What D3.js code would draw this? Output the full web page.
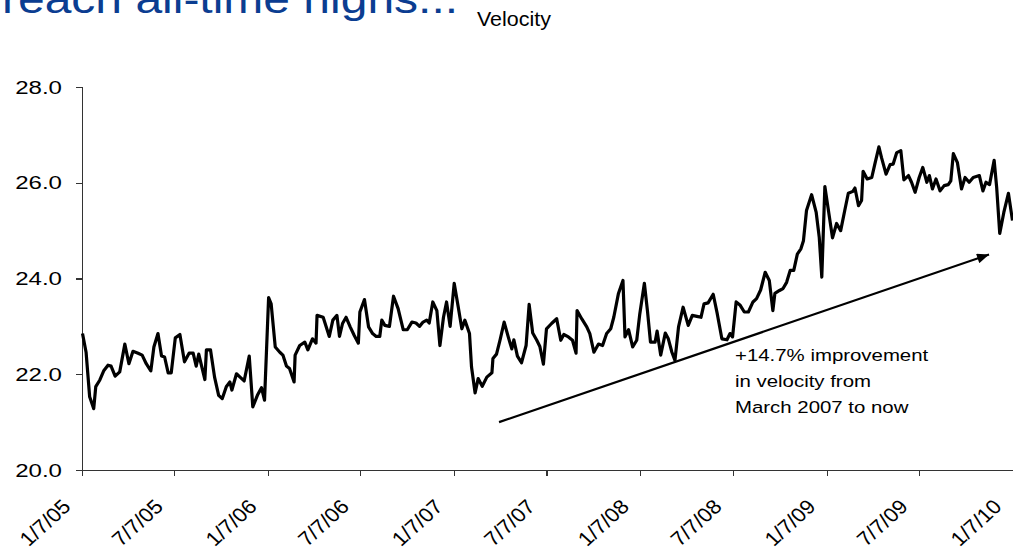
<!DOCTYPE html>
<html>
<head>
<meta charset="utf-8">
<script src="https://cdn.jsdelivr.net/npm/d3@7/dist/d3.min.js"></script>
<style>
  html, body { margin: 0; padding: 0; background: #fff; }
  svg { display: block; }
  text { font-family: Arial, "Liberation Sans", sans-serif; }
</style>
</head>
<body>
<svg id="chart" width="1013" height="553"></svg>
<script>
// ---------- DATA ----------
const titleText = "reach all-time highs...";
const seriesName = "Velocity";
const startDate = "2005-01-07";
// days since 7 Jan 2005
const dayOffset = [1,8,15,23,27,35,43,51,57,65,74,84,92,100,110,118,126,135,141,149,156,162,169,175,183,192,201,210,218,224,229,241,244,252,260,268,275,283,290,294,303,310,318,328,335,344,352,358,366,371,379,388,394,401,407,416,418,427,437,443,452,459,461,473,485,492,500,505,511,518,526,534,542,545,554,562,570,577,584,588,594,603,611,620,630,638,647,655,662,669,676,681,688,696,702,709,715,722,730,738,745,751,760,764,771,777,785,794,804,806,813,820,828,836,843,847,854,862,871,877,884,892,898,905,911,921,931,939,945,954,962,969,971,980,990,996,1004,1013,1021,1029,1037,1043,1052,1061,1065,1072,1080,1088,1094,1103,1109,1115,1124,1128,1135,1144,1150,1157,1163,1170,1179,1189,1197,1206,1214,1220,1228,1238,1246,1255,1265,1271,1276,1283,1291,1299,1307,1316,1323,1331,1340,1348,1355,1359,1368,1375,1382,1389,1396,1403,1410,1415,1421,1431,1440,1446,1451,1457,1465,1472,1480,1488,1496,1503,1512,1516,1523,1529,1532,1540,1549,1555,1563,1568,1577,1585,1591,1598,1606,1612,1621,1627,1634,1642,1649,1657,1662,1668,1675,1683,1691,1699,1704,1709,1717,1725,1732,1740,1748,1760,1767,1773,1780,1789,1794,1800,1808,1817,1825];
const velocity = [22.85,22.46,21.53,21.28,21.74,21.88,22.08,22.19,22.17,21.96,22.05,22.63,22.22,22.48,22.44,22.40,22.22,22.07,22.57,22.85,22.38,22.36,22.03,22.03,22.76,22.83,22.26,22.44,22.44,22.17,22.42,21.89,22.51,22.51,21.94,21.56,21.49,21.74,21.84,21.67,22.01,21.94,21.86,22.38,21.32,21.56,21.72,21.46,23.60,23.47,22.57,22.46,22.40,22.17,22.12,21.84,22.40,22.60,22.67,22.51,22.74,22.65,23.23,23.19,22.79,23.13,23.23,22.79,23.06,23.19,22.99,22.81,22.65,23.30,23.56,22.99,22.85,22.79,22.79,23.13,23.02,23.00,23.63,23.37,22.93,22.93,23.09,23.07,23.00,23.09,23.13,23.07,23.51,23.33,22.60,23.19,23.51,23.00,23.90,23.40,22.95,23.13,22.85,22.15,21.61,21.91,21.75,21.94,22.03,22.33,22.42,22.72,23.09,22.78,22.53,22.72,22.38,22.24,22.60,23.46,22.86,22.71,22.58,22.21,22.95,23.06,23.16,22.71,22.83,22.78,22.71,22.44,23.33,23.16,22.99,22.85,22.46,22.63,22.60,22.85,22.95,23.19,23.68,23.96,22.78,22.93,22.57,22.71,23.26,23.90,23.33,22.67,22.67,22.90,22.40,22.86,22.74,22.46,22.29,22.99,23.40,23.02,23.23,23.21,23.19,23.47,23.49,23.67,23.26,22.74,22.72,22.85,22.78,23.51,23.44,23.30,23.30,23.51,23.58,23.76,24.13,23.96,23.33,23.69,23.75,23.79,23.92,24.17,24.17,24.51,24.62,24.79,25.42,25.75,25.38,24.86,24.03,25.92,25.35,24.85,25.15,25.00,25.42,25.78,25.82,25.89,25.52,25.63,26.24,26.08,26.11,26.39,26.75,26.53,26.18,26.38,26.39,26.63,26.67,26.06,26.15,26.01,25.80,26.11,26.32,26.01,26.15,25.87,26.08,25.83,25.94,25.96,26.04,26.61,26.42,25.87,26.11,26.01,26.11,26.15,25.83,26.01,25.96,26.47,25.90,24.94,25.38,25.78,25.21];
const yTicks = [20, 22, 24, 26, 28];
const xTickDates = ["2005-01-07","2005-07-07","2006-01-07","2006-07-07","2007-01-07","2007-07-07","2008-01-07","2008-07-07","2009-01-07","2009-07-07","2010-01-07"];
const arrowFrom = { date: "2007-04-05", value: 21.0 };
const arrowTo = { date: "2009-11-21", value: 24.5 };
const noteLines = ["+14.7% improvement", "in velocity from", "March 2007 to now"];

// ---------- SETUP ----------
const parse = d3.timeParse("%Y-%m-%d");
const t0 = parse(startDate);
const data = dayOffset.map((d, i) => ({ date: d3.timeDay.offset(t0, d), value: velocity[i] }));

const svg = d3.select("#chart");
const x = d3.scaleTime().domain([parse(xTickDates[0]), parse(xTickDates[xTickDates.length - 1])]).range([82, 1013]);
const y = d3.scaleLinear().domain([20, 28]).range([470, 87]);
const SX = 1.3; // horizontal stretch of the original picture's text

function stretchedText(g, tx, ty, str, opts) {
  return g.append("text")
    .attr("transform", `translate(${tx},${ty}) scale(${opts.sx || SX},1)` + (opts.rot ? ` rotate(${opts.rot})` : ""))
    .attr("text-anchor", opts.anchor || "start")
    .attr("font-size", opts.size)
    .attr("fill", opts.fill || "#000")
    .attr("dy", opts.dy || 0)
    .text(str);
}

// Title + series name
stretchedText(svg, 2, 13, titleText, { size: 40, sx: 1.2, fill: "#0B3D91" });
stretchedText(svg, 477, 26, seriesName, { size: 19.5, sx: 1.1 });

// Axes
const yAxis = d3.axisLeft(y).tickValues(yTicks).tickSize(6).tickFormat("");
const gy = svg.append("g").attr("transform", "translate(82,0)").call(yAxis);
const xAxis = d3.axisBottom(x).tickValues(xTickDates.map(parse)).tickSize(6).tickFormat("");
const gx = svg.append("g").attr("transform", "translate(0,470)").call(xAxis);
[gx, gy].forEach(g => {
  g.selectAll("path, line").attr("stroke", "#333").attr("stroke-width", 1.2).attr("shape-rendering", "crispEdges");
});

// Y labels
const fmtY = d3.format(".1f");
yTicks.forEach(v => stretchedText(svg, 62, y(v), fmtY(v), { size: 18.5, anchor: "end", dy: "0.36em" }));

// X labels
const fmtX = d3.timeFormat("%-m/%-d/%y");
xTickDates.forEach(s => {
  const d = parse(s);
  stretchedText(svg, x(d) - 10, 508, fmtX(d), { size: 20, anchor: "end", sx: 1.1, rot: -45 });
});

// Line
const line = d3.line().x(d => x(d.date)).y(d => y(d.value));
svg.append("path").datum(data)
  .attr("d", line)
  .attr("fill", "none")
  .attr("stroke", "#000")
  .attr("stroke-width", 3.2)
  .attr("stroke-linejoin", "round");

// Arrow annotation
svg.append("defs").append("marker")
  .attr("id", "ah").attr("viewBox", "0 0 12 10").attr("refX", 12).attr("refY", 5)
  .attr("markerWidth", 13).attr("markerHeight", 10).attr("markerUnits", "userSpaceOnUse")
  .attr("orient", "auto")
  .append("path").attr("d", "M0,0 L12,5 L0,10 Z").attr("fill", "#000");
svg.append("line")
  .attr("x1", x(parse(arrowFrom.date))).attr("y1", y(arrowFrom.value))
  .attr("x2", x(parse(arrowTo.date))).attr("y2", y(arrowTo.value))
  .attr("stroke", "#000").attr("stroke-width", 2.2)
  .attr("marker-end", "url(#ah)");

noteLines.forEach((s, i) => stretchedText(svg, 735, 361 + i * 26, s, { size: 17, sx: 1.2 }));
</script>
</body>
</html>
